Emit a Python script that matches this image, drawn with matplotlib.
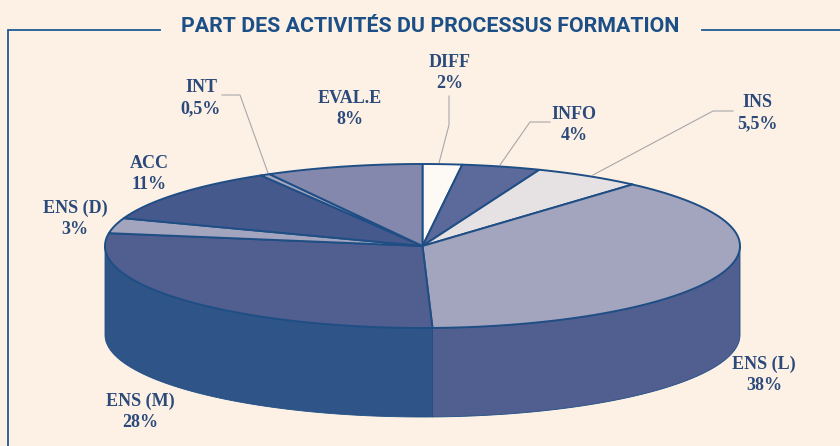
import numpy as np
import matplotlib
matplotlib.use("Agg")
import matplotlib.pyplot as plt
from matplotlib.patches import Polygon

# values in %, clockwise from the top of the pie
labels = ["DIFF", "INFO", "INS", "ENS (L)", "ENS (M)", "ENS (D)", "ACC", "INT", "EVAL.E"]
shown = ["2%", "4%", "5,5%", "38%", "28%", "3%", "11%", "0,5%", "8%"]
values = [2, 4, 5.5, 38, 28, 3, 11, 0.5, 8]
top_colors = ["#fdfaf6", "#5b6a9b", "#e6e2e3", "#a3a4be", "#505f90",
              "#a3a4be", "#46598c", "#a3a4be", "#8488ad"]
side_colors = ["#fdfaf6", "#5b6a9b", "#e6e2e3", "#505f8f", "#2f5488",
               "#a3a4be", "#46598c", "#a3a4be", "#8488ad"]
label_x = [450, 574, 757, 764, 140, 75, 149, 201, 350]
label_y = [73, 125, 113, 375, 412, 219, 174, 98, 109]

title = "PART DES ACTIVITÉS DU PROCESSUS FORMATION"

bg = "#fdf1e6"
blue = "#1f5a94"
edge = "#1f4e85"
text_col = "#2b4a7a"
leader_col = "#a8a8a8"

cx, cy, a, b, depth = 422.5, 246, 317.5, 82, 89


def rim(t):
    # t in degrees clockwise from the top
    r = np.radians(t)
    return cx + a * np.sin(r), cy - b * np.cos(r)


fig = plt.figure(figsize=(8.4, 4.46), dpi=100, facecolor=bg)
ax = fig.add_axes([0, 0, 1, 1])
ax.set_xlim(0, 840)
ax.set_ylim(446, 0)
ax.axis("off")

bounds = np.concatenate([[0], np.cumsum(values)]) * 3.6

# side wall, only the front half of the rim is visible
for i in range(len(values)):
    t0 = max(bounds[i], 90)
    t1 = min(bounds[i + 1], 270)
    if t1 <= t0:
        continue
    t = np.linspace(t0, t1, 80)
    x, y = rim(t)
    pts = np.r_[np.c_[x, y], np.c_[x[::-1], y[::-1] + depth]]
    ax.add_patch(Polygon(pts, closed=True, fc=side_colors[i], ec=edge, lw=0.6, zorder=2))

# top face
for i in range(len(values)):
    t = np.linspace(bounds[i], bounds[i + 1], 80)
    x, y = rim(t)
    pts = np.r_[[[cx, cy]], np.c_[x, y]]
    ax.add_patch(Polygon(pts, closed=True, fc=top_colors[i], ec=edge, lw=1.4,
                         joinstyle="round", zorder=3))

# label text
for i in range(len(labels)):
    ax.text(label_x[i], label_y[i], labels[i] + "\n" + shown[i], ha="center", va="center",
            family="Liberation Serif", weight="bold", fontsize=13, color=text_col,
            linespacing=1.35, zorder=5)

# leaders
ax.plot([222, 240, 268], [95, 95, 173], color=leader_col, lw=0.8, zorder=1)
ax.plot([449, 449, 439], [96, 125, 163], color=leader_col, lw=0.8, zorder=1)
ax.plot([550, 530, 500], [122, 122, 165], color=leader_col, lw=0.8, zorder=1)
ax.plot([733, 713, 593], [111, 111, 175], color=leader_col, lw=0.8, zorder=1)

# frame and title
ax.plot([160, 8, 8], [30, 30, 446], color=blue, lw=1.3, solid_joinstyle="miter")
ax.plot([702, 840], [30, 30], color=blue, lw=1.3)
ax.text(430.5, 27, title, ha="center", va="center", family="Roboto",
        weight="bold", fontsize=15.4, color="#1b4f86")

fig.savefig("out.png", dpi=100, facecolor=bg)
